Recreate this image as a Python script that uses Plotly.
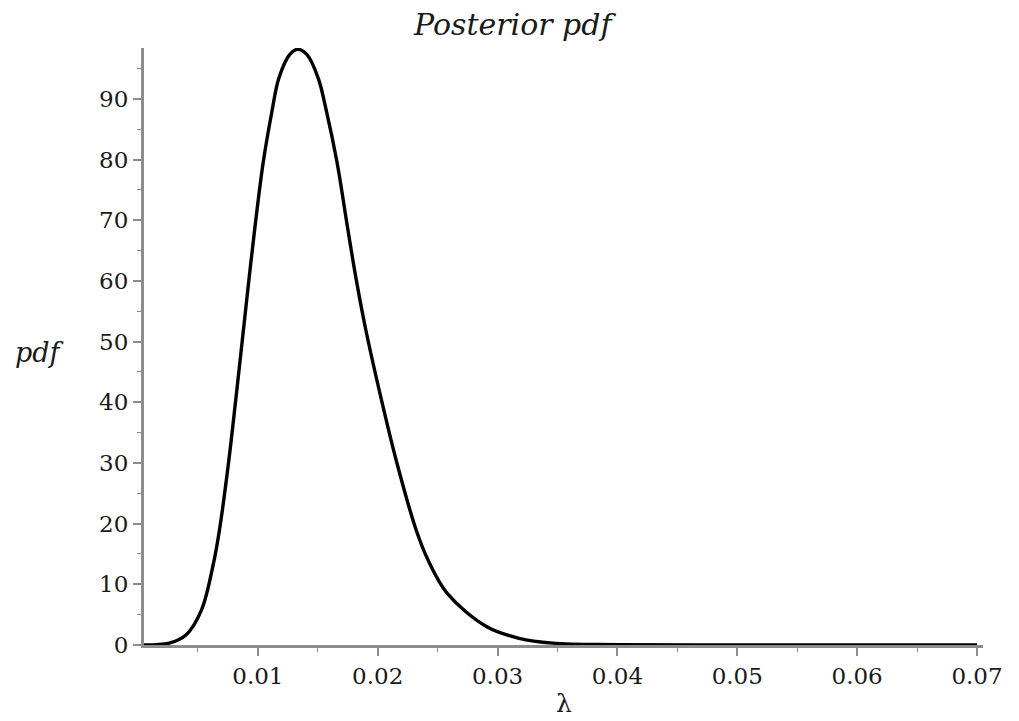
import plotly.graph_objects as go

# Values
lam = [0.0005, 0.0015, 0.0026, 0.0040, 0.0053, 0.0063, 0.0068, 0.00755, 0.00816,
       0.0088, 0.00926, 0.00974, 0.01045, 0.01117, 0.01175, 0.01265, 0.01333,
       0.0141, 0.01504, 0.01573, 0.0166, 0.0175, 0.0182, 0.0190, 0.0203,
       0.0216, 0.0232, 0.0242, 0.0258, 0.0291, 0.0318, 0.0346, 0.0400,
       0.0500, 0.0600, 0.0700]
pdf = [0.0, 0.05, 0.3, 1.65, 5.8, 13.5, 19.0, 30.0, 40.5,
       52.0, 60.3, 68.6, 79.6, 87.9, 93.4, 97.3, 98.2,
       97.3, 93.4, 87.9, 79.6, 68.6, 60.3, 52.0, 40.5,
       30.0, 19.0, 14.0, 8.5, 3.0, 1.1, 0.3, 0.05,
       0.0, 0.0, 0.0]

x_ticks = [0.01, 0.02, 0.03, 0.04, 0.05, 0.06, 0.07]
x_tick_text = ["0.01", "0.02", "0.03", "0.04", "0.05", "0.06", "0.07"]
y_ticks = [0, 10, 20, 30, 40, 50, 60, 70, 80, 90]
y_tick_text = ["0", "10", "20", "30", "40", "50", "60", "70", "80", "90"]

FONT = "DejaVu Serif"
AXIS_COLOR = "#8c8c8c"
TEXT_COLOR = "#1a1a1a"

fig = go.Figure()
fig.add_trace(go.Scatter(
    x=lam, y=pdf, mode="lines",
    line=dict(color="black", width=3.4, shape="spline", smoothing=1.0),
    hoverinfo="skip", showlegend=False,
))

fig.update_layout(
    width=1019, height=721,
    margin=dict(l=144, r=36, t=48, b=76),
    paper_bgcolor="white", plot_bgcolor="white",
    font=dict(family=FONT, color=TEXT_COLOR, size=23),
    showlegend=False,
    annotations=[
        dict(text="Posterior pdf", xref="paper", yref="paper",
             x=0.442, y=1.0, yshift=24, xanchor="center", yanchor="middle",
             showarrow=False,
             font=dict(family=FONT, size=30, style="italic", color=TEXT_COLOR)),
        dict(text="pdf", xref="paper", yref="paper",
             x=-0.156, y=0.49, xanchor="left", yanchor="middle",
             showarrow=False,
             font=dict(family=FONT, size=27, style="italic", color=TEXT_COLOR)),
        dict(text="λ", xref="paper", yref="paper",
             x=0.5, y=0, yshift=-58, xanchor="center", yanchor="middle",
             showarrow=False,
             font=dict(family=FONT, size=25, color=TEXT_COLOR)),
    ],
)

fig.update_xaxes(
    range=[0.0005, 0.0705],
    tickmode="array", tickvals=x_ticks, ticktext=x_tick_text,
    showgrid=False, zeroline=False,
    showline=True, linecolor=AXIS_COLOR, linewidth=3,
    ticks="outside", ticklen=8, tickwidth=1.5, tickcolor=AXIS_COLOR,
    minor=dict(dtick=0.005, tick0=0, ticks="outside", ticklen=4,
               tickwidth=1.2, tickcolor=AXIS_COLOR, showgrid=False),
    tickfont=dict(family=FONT, size=23, color=TEXT_COLOR),
    fixedrange=True,
)
fig.update_yaxes(
    range=[0, 98.4],
    tickmode="array", tickvals=y_ticks, ticktext=y_tick_text,
    showgrid=False, zeroline=False,
    showline=True, linecolor=AXIS_COLOR, linewidth=3,
    ticks="outside", ticklen=8, tickwidth=1.5, tickcolor=AXIS_COLOR,
    minor=dict(dtick=5, tick0=0, ticks="outside", ticklen=4,
               tickwidth=1.2, tickcolor=AXIS_COLOR, showgrid=False),
    tickfont=dict(family=FONT, size=23, color=TEXT_COLOR),
    fixedrange=True,
)

fig.write_html("out.html")
